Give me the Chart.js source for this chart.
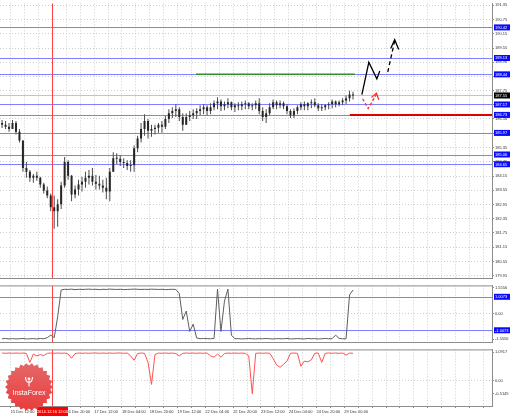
<!DOCTYPE html>
<html>
<head>
<meta charset="utf-8">
<title>GBP/JPY H1</title>
<script src="https://cdn.jsdelivr.net/npm/chart.js@4.4.1/dist/chart.umd.min.js"></script>
<style>
  body { margin: 0; background: #fff; }
  #wrap { position: relative; width: 510px; height: 417px; overflow: hidden; }
  canvas { position: absolute; left: 0; }
</style>
</head>
<body>
<div id="wrap">
  <canvas id="priceChart" width="510" height="282" style="top:0"></canvas>
  <canvas id="oscChart" width="510" height="64" style="top:282px"></canvas>
  <canvas id="histChart" width="510" height="71" style="top:346px"></canvas>
</div>
<script>
const FONT = '"Liberation Sans", Arial, sans-serif';

// bar numbers counted from 15 Dec 12:00, one label every 16 bars
const timeTicks = [0, 16, 32, 48, 64, 80, 96, 112, 128, 144, 160, 176, 192];
const timeLabels = ["15 Dec 12:00", "16 Dec 04:00", "16 Dec 20:00", "17 Dec 12:00", "18 Dec 04:00",
  "18 Dec 20:00", "19 Dec 12:00", "22 Dec 04:00", "22 Dec 20:00", "23 Dec 12:00",
  "24 Dec 04:00", "24 Dec 20:00", "29 Dec 00:00"];
const markerBar = 24;
const markerLabel = "2014.12.16 12:00";

// candles, one every 2 bars starting at bar -5
const firstBar = -5;
const barStep = 2;

const highs = [186.52, 186.47, 186.39, 186.52, 186.47, 186.14, 185.65, 184.74, 184.41, 184.24,
  184.33, 184.12, 183.87, 183.71, 183.42, 183.33, 183.17, 183.91, 184.95, 184.82,
  184.20, 183.75, 183.99, 184.12, 184.33, 184.41, 184.49, 184.20, 184.16, 183.99,
  184.08, 184.49, 185.15, 185.11, 185.03, 184.90, 184.82, 184.82, 185.44, 185.85,
  186.39, 186.76, 186.56, 186.31, 186.31, 186.39, 186.47, 186.68, 186.97, 187.05,
  187.18, 187.05, 186.80, 186.80, 186.89, 186.97, 187.01, 187.14, 187.18, 187.14,
  187.22, 187.34, 187.47, 187.38, 187.30, 187.43, 187.30, 187.22, 187.26, 187.30,
  187.34, 187.26, 187.22, 187.34, 187.43, 187.05, 186.97, 187.22, 187.38, 187.34,
  187.34, 187.30, 187.18, 186.97, 187.01, 187.14, 187.26, 187.30, 187.26, 187.38,
  187.43, 187.22, 187.18, 187.18, 187.26, 187.38, 187.34, 187.34, 187.43, 187.55,
  187.75, 187.71];
const lows = [186.18, 186.14, 186.02, 186.14, 185.90, 185.57, 184.33, 184.08, 183.91, 183.87,
  183.95, 183.66, 183.42, 183.21, 182.67, 181.93, 182.01, 182.76, 183.66, 183.99,
  183.09, 183.21, 183.33, 183.50, 183.66, 183.79, 183.75, 183.58, 183.58, 183.46,
  183.17, 183.09, 184.33, 184.66, 184.57, 184.49, 184.41, 184.33, 184.33, 185.15,
  185.57, 185.85, 185.73, 185.81, 185.90, 185.98, 185.98, 186.14, 186.39, 186.60,
  186.64, 186.47, 186.06, 186.31, 186.47, 186.56, 186.56, 186.72, 186.76, 186.72,
  186.76, 186.93, 186.97, 186.89, 186.93, 187.01, 186.93, 186.85, 186.93, 186.93,
  186.97, 186.97, 186.93, 186.97, 186.76, 186.47, 186.39, 186.72, 186.97, 186.97,
  187.01, 186.97, 186.76, 186.60, 186.60, 186.76, 186.93, 186.93, 186.93, 187.01,
  187.05, 186.89, 186.89, 186.93, 186.97, 187.01, 187.05, 187.09, 187.14, 187.18,
  187.30, 187.38];
const opens = [186.39, 186.31, 186.23, 186.14, 186.39, 186.02, 185.65, 184.49, 184.33, 184.08,
  184.16, 184.08, 183.79, 183.54, 183.33, 182.84, 182.67, 182.96, 183.75, 184.74,
  184.16, 183.37, 183.58, 183.79, 183.91, 184.08, 184.16, 183.91, 183.83, 183.75,
  183.66, 183.50, 184.33, 184.90, 184.88, 184.74, 184.70, 184.57, 184.61, 185.32,
  185.73, 186.14, 186.47, 186.06, 186.14, 186.19, 186.31, 186.23, 186.56, 186.80,
  186.89, 186.97, 186.64, 186.31, 186.64, 186.72, 186.80, 186.89, 186.97, 187.05,
  186.89, 187.05, 187.22, 187.30, 187.09, 187.18, 187.26, 187.05, 187.14, 187.09,
  187.18, 187.22, 187.09, 187.14, 187.22, 186.89, 186.64, 186.80, 187.05, 187.26,
  187.14, 187.22, 187.09, 186.89, 186.72, 186.89, 187.05, 187.18, 187.09, 187.22,
  187.26, 187.14, 187.01, 187.05, 187.14, 187.18, 187.30, 187.18, 187.26, 187.34,
  187.43, 187.59];
const closes = [186.31, 186.23, 186.14, 186.39, 186.02, 185.65, 184.49, 184.33, 184.08, 184.16,
  184.08, 183.79, 183.54, 183.33, 182.84, 182.67, 182.96, 183.75, 184.74, 184.16,
  183.37, 183.58, 183.79, 183.91, 184.08, 184.16, 183.91, 183.83, 183.75, 183.66,
  183.50, 184.33, 184.90, 184.88, 184.74, 184.70, 184.57, 184.61, 185.32, 185.73,
  186.14, 186.47, 186.06, 186.14, 186.19, 186.31, 186.23, 186.56, 186.80, 186.89,
  186.97, 186.64, 186.31, 186.64, 186.72, 186.80, 186.89, 186.97, 187.05, 186.89,
  187.05, 187.22, 187.30, 187.09, 187.18, 187.26, 187.05, 187.14, 187.09, 187.18,
  187.22, 187.09, 187.14, 187.22, 186.89, 186.64, 186.80, 187.05, 187.26, 187.14,
  187.22, 187.09, 186.89, 186.72, 186.89, 187.05, 187.18, 187.09, 187.22, 187.26,
  187.14, 187.01, 187.05, 187.14, 187.18, 187.30, 187.18, 187.26, 187.34, 187.43,
  187.59, 187.55];

const oscValues = [-1.52, -1.50, -1.53, -1.51, -1.53, -1.52, -1.50, -1.53, -1.52, -1.51,
  -1.53, -1.50, -1.52, -1.45, -1.30, -1.45, -0.20, 1.42, 1.46, 1.45,
  1.47, 1.44, 1.46, 1.45, 1.46, 1.47, 1.45, 1.46, 1.44, 1.46,
  1.45, 1.47, 1.46, 1.45, 1.46, 1.44, 1.45, 1.46, 1.47, 1.46,
  1.45, 1.46, 1.45, 1.47, 1.46, 1.45, 1.46, 1.44, 1.45, 1.46,
  1.45, 1.20, -0.36, 0.15, -1.08, -0.64, -1.47, -1.52, -1.50, -1.51,
  -1.52, -1.50, 1.47, -1.08, 0.75, 1.47, -1.30, -1.52, -1.51, -1.53,
  -1.52, -1.50, -1.52, -1.53, -1.51, -1.52, -1.50, -1.52, -1.53, -1.51,
  -1.52, -1.52, -1.50, -1.53, -1.52, -1.51, -1.52, -1.53, -1.50, -1.52,
  -1.51, -1.53, -1.52, -1.50, -1.52, -1.51, -1.30, -1.50, -1.52, -1.52,
  1.12, 1.42];

const histValues = [1.06, 1.05, 1.06, 1.05, 1.06, 1.05, 1.06, 1.04, 0.70, 1.02,
  0.95, 1.00, 0.96, 1.05, 1.06, 1.05, 1.06, 1.05, 1.06, 1.02,
  0.86, 1.04, 1.06, 1.05, 1.06, 1.05, 1.06, 1.06, 1.05, 1.06,
  1.05, 1.06, 1.05, 1.06, 1.06, 1.05, 1.06, 0.95, 0.78, 1.04,
  1.06, 1.05, 0.70, -0.15, 1.00, 1.06, 1.05, 1.06, 1.05, 1.06,
  1.04, 0.95, 1.05, 1.06, 1.05, 1.06, 1.05, 1.06, 1.05, 1.06,
  0.95, 0.90, 1.02, 0.90, 1.04, 1.06, 1.05, 1.06, 1.05, 1.06,
  1.05, 0.95, -0.51, 1.05, 1.06, 1.05, 1.06, 1.05, 0.85, 0.60,
  0.51, 0.62, 0.75, 1.05, 1.06, 1.05, 0.55, 0.75, 0.72, 0.80,
  1.05, 1.06, 0.70, 1.05, 1.06, 1.05, 1.06, 1.05, 1.06, 0.98,
  1.06, 1.05];

// levels and drawn objects
const priceLevels = [190.42, 189.13, 188.44, 187.17, 186.73, 185.97, 185.06, 184.65];
const lastPrice = 187.55;
const greenLevel = 188.44, greenFrom = 106.6, greenTo = 198;
const redLevel = 186.73, redFrom = 195.2;
const oscLevels = [1.0073, -1.0073];

const forecastX = [202.1, 206.1, 210.7, 212.4];
const forecastY = [187.59, 188.95, 188.25, 188.58];
const targetX = [217.0, 221.0];
const targetY = [188.54, 189.86];
const targetHeadX = [218.7, 221.0, 223.3];
const targetHeadY = [189.53, 189.90, 189.49];
const pullbackX = [202.5, 205.7, 210.5];
const pullbackY = [187.41, 187.00, 187.60];
const pullbackHeadX = [207.6, 210.5, 211.8];
const pullbackHeadY = [187.47, 187.64, 187.37];

const priceTicks = [191.35, 190.75, 190.15, 189.55, 188.96, 188.36, 187.75, 187.16, 186.56, 185.96,
  185.35, 184.76, 184.15, 183.55, 182.95, 182.35, 181.75, 181.15, 180.55, 179.95];
const oscTicks = [1.5556, 0, -1.5556];
const histTicks = [1.0917, 0, -0.5149];

const barX = closes.map((c, i) => firstBar + barStep * i);
const pts = (xs, ys) => xs.map((x, i) => ({ x, y: ys[i] }));

const gridBars = [];
for (let b = 0; b <= 272; b += 8) gridBars.push(b);

Chart.defaults.font.family = FONT;

function timeAxis(showLabels) {
  return {
    type: "linear",
    min: -6.2,
    max: 277,
    offset: false,
    afterBuildTicks: (s) => { s.ticks = gridBars.map((v) => ({ value: v })); },
    afterFit: (s) => { s.height = showLabels ? 11 : 1; },
    grid: { color: "#cdcdcd", offset: false, drawTicks: showLabels, tickLength: 2, tickColor: "#8c8c8c" },
    border: { display: true, color: "#8c8c8c", dash: [1, 2] },
    ticks: {
      display: showLabels,
      autoSkip: false,
      maxRotation: 0,
      align: "start",
      padding: 1,
      color: "#333",
      font: { size: 4 },
      callback: (v) => {
        const i = timeTicks.indexOf(v);
        return i < 0 ? "" : timeLabels[i];
      },
    },
  };
}

function valueAxis(min, max, ticks, fmt, hide, zeroGridOnly) {
  return {
    position: "right",
    min,
    max,
    beginAtZero: false,
    afterBuildTicks: (s) => { s.ticks = ticks.map((v) => ({ value: v })); },
    afterFit: (s) => { s.width = 18; },
    grid: {
      color: (c) => (!zeroGridOnly || (c.tick && c.tick.value === 0) ? "#cdcdcd" : "rgba(0,0,0,0)"),
      tickLength: 2,
      tickColor: "#8c8c8c",
    },
    border: { display: true, color: "#8c8c8c", dash: [1, 2] },
    ticks: {
      autoSkip: false,
      padding: 1,
      color: "#333",
      font: { size: 4 },
      callback: (v) => (hide.some((l) => Math.abs(l - v) < 0.1) ? "" : fmt(v)),
    },
  };
}

const levelPlugin = {
  id: "levels",
  beforeDatasetsDraw(chart, args, o) {
    const { ctx, chartArea: a, scales: { x, y } } = chart;
    ctx.save();
    ctx.beginPath();
    ctx.rect(a.left, a.top, a.right - a.left, a.bottom - a.top);
    ctx.clip();
    ctx.lineWidth = 1;
    const hline = (v, color) => {
      const py = Math.round(y.getPixelForValue(v)) + 0.5;
      ctx.strokeStyle = color;
      ctx.beginPath();
      ctx.moveTo(a.left, py);
      ctx.lineTo(a.right, py);
      ctx.stroke();
    };
    if (o.last !== undefined) hline(o.last, "#c4c4c4");
    (o.levels || []).forEach((v) => hline(v, "#8080ff"));
    const mx = Math.round(x.getPixelForValue(markerBar)) + 0.5;
    ctx.strokeStyle = "#ff4040";
    ctx.beginPath();
    ctx.moveTo(mx, a.top);
    ctx.lineTo(mx, a.bottom);
    ctx.stroke();
    ctx.restore();
  },
  afterDraw(chart, args, o) {
    const { ctx, chartArea: a, scales: { x, y } } = chart;
    ctx.save();
    if (o.frameTop) {
      ctx.strokeStyle = "#8c8c8c";
      ctx.lineWidth = 1;
      ctx.beginPath();
      ctx.moveTo(a.left, a.top + 0.5);
      ctx.lineTo(a.right, a.top + 0.5);
      ctx.stroke();
    }
    ctx.font = `4px ${FONT}`;
    ctx.textBaseline = "middle";
    ctx.textAlign = "left";
    const box = (v, fill) => {
      const py = y.getPixelForValue(v);
      ctx.fillStyle = fill;
      ctx.fillRect(a.right + 2, py - 3, 16, 6);
      ctx.fillStyle = "#fff";
      ctx.fillText(o.fmt(v), a.right + 3, py + 0.3);
    };
    (o.levels || []).forEach((v) => box(v, "#0a0aff"));
    if (o.last !== undefined) box(o.last, "#000");

    if (o.timeBox) {
      const px = x.getPixelForValue(markerBar);
      ctx.fillStyle = "#ff0000";
      ctx.fillRect(px - 15.5, a.bottom + 1, 31, 9);
      ctx.fillStyle = "#fff";
      ctx.textAlign = "center";
      ctx.fillText(markerLabel, px, a.bottom + 5.8);
    }
    if (o.seal) drawSeal(ctx, 29, 41, 24);
    ctx.restore();
  },
};

function drawSeal(ctx, cx, cy, r) {
  ctx.save();
  ctx.beginPath();
  const spikes = 26;
  for (let i = 0; i < spikes * 2; i++) {
    const ang = (i * Math.PI) / spikes;
    const rr = i % 2 ? r - 2.5 : r;
    ctx.lineTo(cx + rr * Math.cos(ang), cy + rr * Math.sin(ang));
  }
  ctx.closePath();
  const g = ctx.createLinearGradient(0, cy - r, 0, cy + r);
  g.addColorStop(0, "#e46868");
  g.addColorStop(1, "#ea3c3c");
  ctx.fillStyle = g;
  ctx.fill();

  ctx.strokeStyle = "#fff";
  ctx.fillStyle = "#fff";
  ctx.lineWidth = 1.1;
  ctx.beginPath();
  ctx.arc(cx, cy - 8, 1.4, 0, Math.PI * 2);
  ctx.fill();
  ctx.beginPath();
  ctx.moveTo(cx - 3.5, cy - 10);
  ctx.quadraticCurveTo(cx - 3.5, cy - 5, cx, cy - 4.5);
  ctx.quadraticCurveTo(cx + 3.5, cy - 5, cx + 3.5, cy - 10);
  ctx.moveTo(cx, cy - 6);
  ctx.lineTo(cx, cy - 0.5);
  ctx.stroke();

  ctx.font = `7px ${FONT}`;
  ctx.textAlign = "center";
  ctx.textBaseline = "middle";
  ctx.fillText("InstaForex", cx, cy + 6);
  ctx.restore();
}

const baseOptions = {
  responsive: false,
  animation: false,
  events: [],
  devicePixelRatio: 1,
  layout: { padding: 0, autoPadding: false },
};

// price panel
new Chart(document.getElementById("priceChart"), {
  type: "bar",
  data: {
    datasets: [
      { type: "line", data: pts(forecastX, forecastY), borderColor: "#000", borderWidth: 1.3, pointRadius: 0 },
      { type: "line", data: pts(targetX, targetY), borderColor: "#000", borderWidth: 1.3, borderDash: [4, 3], pointRadius: 0 },
      { type: "line", data: pts(targetHeadX, targetHeadY), borderColor: "#000", borderWidth: 1.3, pointRadius: 0 },
      { type: "line", data: pts(pullbackX, pullbackY), borderColor: "#ff2424", borderWidth: 1.2, borderDash: [3, 2], pointRadius: 0 },
      { type: "line", data: pts(pullbackHeadX, pullbackHeadY), borderColor: "#ff2424", borderWidth: 1.2, pointRadius: 0 },
      { type: "line", data: [{ x: greenFrom, y: greenLevel }, { x: greenTo, y: greenLevel }], borderColor: "#2f8f2f", borderWidth: 1.5, pointRadius: 0 },
      { type: "line", data: [{ x: redFrom, y: redLevel }, { x: 277, y: redLevel }], borderColor: "#e00000", borderWidth: 2, pointRadius: 0 },
      {
        type: "bar",
        data: barX.map((b, i) => ({ x: b, y: [opens[i], closes[i]] })),
        backgroundColor: "#262626",
        grouped: false,
        maxBarThickness: 2,
        minBarLength: 1,
      },
      {
        type: "bar",
        data: barX.map((b, i) => ({ x: b, y: [lows[i], highs[i]] })),
        backgroundColor: "#4a4a4a",
        grouped: false,
        maxBarThickness: 1,
      },
    ],
  },
  options: {
    ...baseOptions,
    scales: {
      x: timeAxis(false),
      y: valueAxis(179.826, 191.433, priceTicks, (v) => v.toFixed(2), [...priceLevels, lastPrice], false),
    },
    plugins: {
      legend: { display: false },
      tooltip: { enabled: false },
      levels: { levels: priceLevels, last: lastPrice, fmt: (v) => v.toFixed(2) },
    },
  },
  plugins: [levelPlugin],
});

// oscillator panel
new Chart(document.getElementById("oscChart"), {
  type: "line",
  data: {
    datasets: [
      { data: pts(barX, oscValues), borderColor: "#5e5e5e", borderWidth: 1, pointRadius: 0, tension: 0 },
    ],
  },
  options: {
    ...baseOptions,
    layout: { padding: { top: 1 }, autoPadding: false },
    scales: {
      x: timeAxis(false),
      y: valueAxis(-1.75, 1.694, oscTicks, (v) => (v === 0 ? "0.00" : v.toFixed(4)), oscLevels, true),
    },
    plugins: {
      legend: { display: false },
      tooltip: { enabled: false },
      levels: { levels: oscLevels, fmt: (v) => v.toFixed(4), frameTop: true },
    },
  },
  plugins: [levelPlugin],
});

// histogram line panel with time axis
new Chart(document.getElementById("histChart"), {
  type: "line",
  data: {
    datasets: [
      { data: pts(barX, histValues), borderColor: "#ff5252", borderWidth: 1, pointRadius: 0, tension: 0 },
    ],
  },
  options: {
    ...baseOptions,
    scales: {
      x: timeAxis(true),
      y: valueAxis(-0.982, 1.2, histTicks, (v) => (v === 0 ? "0.00" : v.toFixed(4)), [], true),
    },
    plugins: {
      legend: { display: false },
      tooltip: { enabled: false },
      levels: { levels: [], fmt: (v) => v.toFixed(4), frameTop: true, timeBox: true, seal: true },
    },
  },
  plugins: [levelPlugin],
});
</script>
</body>
</html>
